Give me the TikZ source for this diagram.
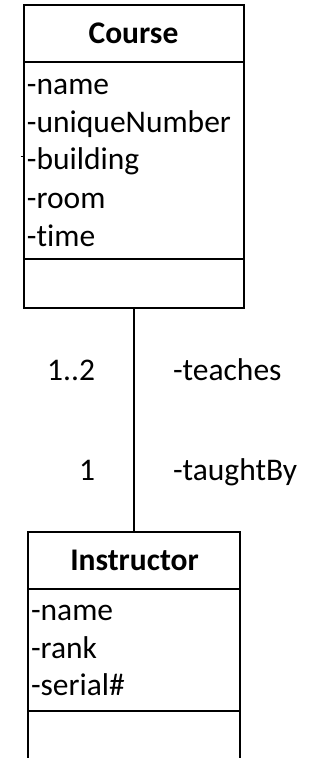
\documentclass[tikz,border=0pt]{standalone}
\usepackage{fontspec}
\setmainfont{Carlito}[Ligatures={NoCommon,NoContextual}]
\begin{document}
\begin{tikzpicture}[x=1pt,y=-1pt,
  compartment/.style={draw=black,line width=2pt,inner sep=0pt,outer sep=0pt},
  txt/.style={inner sep=0pt,outer sep=0pt,font=\fontsize{31.5}{37}\selectfont},
  attr/.style={txt,anchor=base west},
  heading/.style={txt,anchor=base,font=\fontsize{31.5}{37}\selectfont\bfseries},
  assoc/.style={draw=black,line width=1.2pt}]
\useasboundingbox (0,0) rectangle (321,758);

% Course class
\node[compartment,minimum width=220pt,minimum height=57pt] (ctitle) at (134,33.5) {};
\node[compartment,minimum width=220pt,minimum height=197pt] (cattr) at (134,160.5) {};
\node[compartment,minimum width=220pt,minimum height=49pt] (cops) at (134,283.5) {};
\node[heading] (cname) at (133.5,43) {Course};
\node[attr] (c1) at (27,94) {-name};
\node[attr] (c2) at (27,132) {-uniqueNumber};
\node[attr] (c3) at (27,169.5) {-building};
\node[attr] (c4) at (27,208) {-room};
\node[attr] (c5) at (27,246) {-time};
\coordinate (tick) at (20.5,156);
\draw[line width=1pt] (tick) -- (tick -| cattr.west);

% Instructor class (bottom compartment runs off the page)
\node[compartment,minimum width=212pt,minimum height=57pt] (ititle) at (134,560.5) {};
\node[compartment,minimum width=212pt,minimum height=122pt] (iattr) at (134,650) {};
\coordinate (ibl) at (28,770);
\coordinate (ibr) at (240,770);
\draw[line width=2pt] (iattr.south west) -- (ibl);
\draw[line width=2pt] (iattr.south east) -- (ibr);
\node[heading] (iname) at (134.5,570) {Instructor};
\node[attr] (i1) at (31,620) {-name};
\node[attr] (i2) at (31,658) {-rank};
\node[attr] (i3) at (31,695) {-serial\#};

% Association
\draw[assoc] (cops.south) -- (ititle.north);
\node[txt,anchor=base east] (m1) at (95,380) {1..2};
\node[txt,anchor=base west] (r1) at (173,380) {-teaches};
\node[txt,anchor=base east] (m2) at (95,480) {1};
\node[txt,anchor=base west] (r2) at (173,480) {-taughtBy};
\end{tikzpicture}
\end{document}
